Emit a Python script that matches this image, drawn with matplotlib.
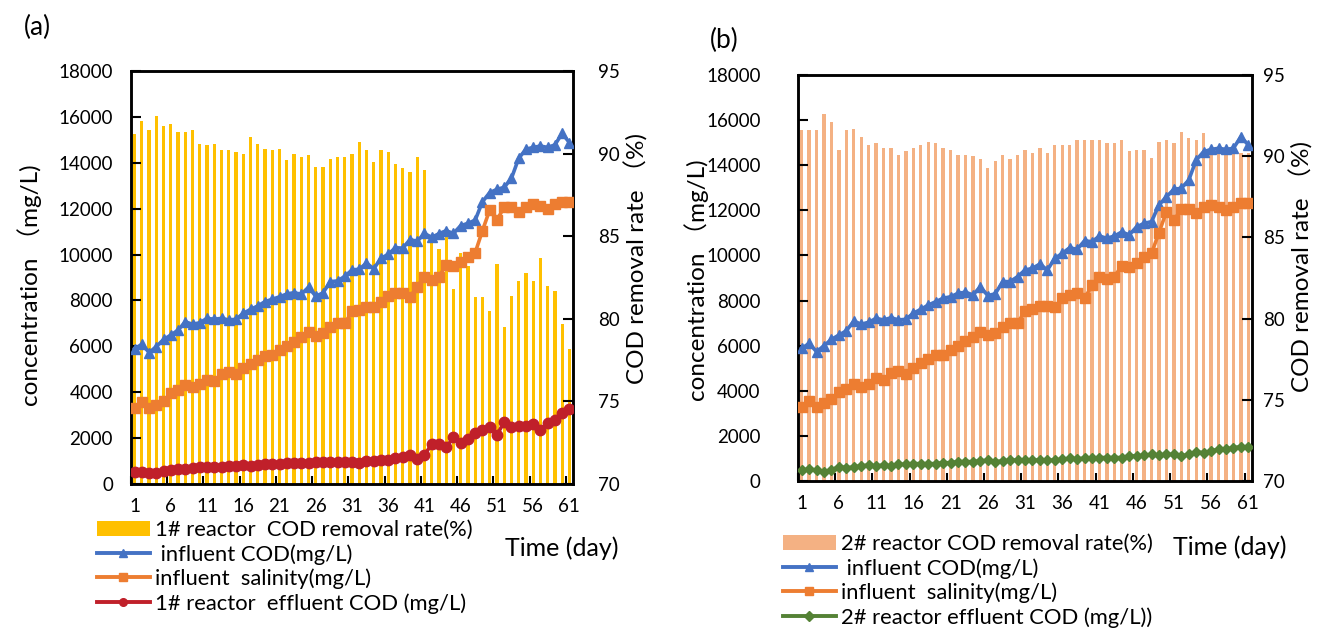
import matplotlib
matplotlib.use("Agg")
import matplotlib.pyplot as plt
from matplotlib.lines import Line2D
from matplotlib.patches import Patch
import numpy as np

plt.rcParams['font.family'] = ['Lato', 'Noto Sans CJK SC', 'DejaVu Sans']

days = list(range(1, 62))
tick_days = list(range(1, 62, 5))

# ---- panel (a) data ----
rate1 = [91.2, 92.0, 91.4, 92.3, 91.7, 91.8, 91.3, 91.3, 91.4, 90.6,
         90.5, 90.6, 90.2, 90.2, 90.1, 90.0, 91.0, 90.6, 90.3, 90.2,
         90.3, 89.6, 90.0, 89.8, 89.9, 89.2, 89.2, 89.7, 89.8, 89.8,
         90.0, 90.7, 90.2, 89.5, 90.2, 90.1, 89.4, 89.1, 88.9, 89.8,
         89.0, 84.6, 84.2, 85.0, 81.8, 84.0, 83.2, 81.3, 81.3, 80.5,
         83.3, 79.5, 81.4, 82.3, 82.8, 82.3, 83.7, 82.0, 81.7, 79.7,
         78.2]
cod_in_a = [5890, 6090, 5730, 5990, 6300, 6490, 6710, 7070, 6960, 7030,
            7220, 7180, 7220, 7150, 7180, 7440, 7610, 7760, 7950, 8050,
            8160, 8280, 8340, 8270, 8580, 8180, 8330, 8820, 8850, 9050,
            9330, 9360, 9630, 9380, 9840, 10010, 10300, 10280, 10650, 10580,
            10920, 10750, 10910, 11040, 10920, 11260, 11360, 11500, 12300, 12700,
            12840, 12930, 13320, 14190, 14590, 14670, 14730, 14670, 14780, 15280,
            14880]
sal_a = [3330, 3590, 3300, 3440, 3630, 3950, 4100, 4320, 4240, 4340,
         4530, 4490, 4780, 4900, 4780, 5040, 5230, 5400, 5580, 5620,
         5840, 6020, 6200, 6390, 6620, 6460, 6560, 6860, 7000, 7000,
         7520, 7580, 7730, 7700, 7950, 8200, 8330, 8310, 8150, 8600,
         9040, 8890, 9040, 9540, 9500, 9690, 9910, 10080, 11040, 11940,
         11510, 12060, 12090, 11870, 12090, 12200, 12130, 11990, 12200, 12300,
         12300]
eff_a = [540, 530, 500, 470, 570, 610, 650, 660, 690, 720,
         730, 760, 760, 790, 800, 830, 770, 830, 870, 880,
         880, 930, 900, 920, 930, 940, 950, 950, 960, 980,
         980, 920, 1000, 1020, 1030, 1060, 1120, 1170, 1260, 1100,
         1260, 1740, 1760, 1600, 2030, 1800, 1950, 2220, 2340, 2500,
         2150, 2690, 2500, 2510, 2510, 2630, 2350, 2660, 2790, 3100,
         3250]

# ---- panel (b) data ----
rate2 = [91.6, 91.6, 91.6, 92.6, 92.1, 90.4, 91.6, 91.7, 91.2, 90.7,
         90.8, 90.5, 90.5, 90.1, 90.3, 90.5, 90.7, 90.9, 90.8, 90.5,
         90.4, 90.1, 90.1, 90.0, 89.8, 89.3, 89.7, 90.1, 89.8, 90.1,
         90.4, 90.2, 90.5, 90.2, 90.7, 90.7, 90.7, 91.0, 91.0, 91.0,
         91.0, 90.8, 90.8, 91.0, 90.3, 90.4, 90.4, 89.9, 90.9, 91.0,
         90.8, 91.5, 91.1, 91.0, 91.4, 90.3, 90.2, 90.2, 90.2, 90.2,
         90.2]
cod_in_b = [5880, 6100, 5730, 6000, 6280, 6470, 6660, 7090, 6950, 7040,
            7210, 7140, 7240, 7140, 7170, 7440, 7610, 7800, 7950, 8100,
            8170, 8320, 8370, 8250, 8610, 8220, 8300, 8840, 8840, 9060,
            9350, 9430, 9620, 9350, 9870, 10090, 10340, 10270, 10650, 10610,
            10860, 10760, 10860, 11040, 10910, 11270, 11420, 11500, 12240, 12600,
            12930, 12980, 13340, 14230, 14600, 14700, 14750, 14700, 14750, 15260,
            14900]
sal_b = [3300, 3560, 3270, 3440, 3620, 3930, 4060, 4300, 4180, 4290,
         4550, 4480, 4800, 4890, 4730, 5000, 5220, 5390, 5590, 5590,
         5810, 5990, 6210, 6370, 6620, 6470, 6550, 6840, 6990, 6990,
         7550, 7610, 7760, 7760, 7700, 8100, 8250, 8320, 8100, 8670,
         9060, 8940, 9060, 9530, 9500, 9650, 9920, 10090, 11010, 11940,
         11570, 12040, 12040, 11900, 12130, 12240, 12130, 12020, 12130, 12310,
         12340]
eff_b = [490, 520, 490, 420, 490, 640, 590, 620, 670, 710,
         670, 710, 670, 740, 740, 770, 770, 770, 770, 810,
         810, 860, 860, 860, 890, 920, 860, 890, 920, 930,
         930, 920, 930, 930, 920, 960, 1010, 990, 1010, 1010,
         1040, 1040, 1040, 1040, 1110, 1110, 1140, 1180, 1140, 1180,
         1180, 1110, 1180, 1290, 1260, 1330, 1410, 1410, 1480, 1520,
         1520]

W, H = 1344, 635
fig = plt.figure(figsize=(W / 100, H / 100), dpi=100)

BLUE = '#4472C4'
ORANGE = '#ED7D31'
RED = '#C0202A'
GREEN = '#548235'

TFS = 13.5


def px(x0, y0, x1, y1):
    return [x0 / W, 1 - y1 / H, (x1 - x0) / W, (y1 - y0) / H]


def panel(rect, rate, barcolor, cod_in, sal, eff, effcolor, effmarker, effms,
          lpad, rpad):
    axb = fig.add_axes(rect)          # bars, right scale
    axl = axb.twinx()                 # lines, left scale
    axb.bar(days, rate, width=0.45, color=barcolor, bottom=0, zorder=1)
    axb.set_ylim(70, 95)
    axb.set_yticks([70, 75, 80, 85, 90, 95])
    axb.yaxis.tick_right()
    axb.yaxis.set_label_position('right')
    axb.set_xlim(0.5, 61.5)
    axb.set_xticks(tick_days)
    axb.set_xticks([0.5 + 5 * k for k in range(13)], minor=True)
    axb.tick_params(axis='x', which='major', length=0, pad=10, labelsize=TFS)
    axb.tick_params(axis='x', which='minor', length=6, width=1.5,
                    direction='in')
    axb.tick_params(axis='y', which='major', direction='in', length=7,
                    width=1.5, labelsize=TFS, pad=rpad, right=True, left=False,
                    labelright=True, labelleft=False)

    lw = 2.6
    axl.plot(days, cod_in, color=BLUE, lw=lw, marker='^', ms=7.5, zorder=3)
    axl.plot(days, sal, color=ORANGE, lw=lw, marker='s', ms=7, zorder=3)
    axl.plot(days, eff, color=effcolor, lw=lw, marker=effmarker, ms=effms,
             zorder=3)
    axl.set_ylim(0, 18000)
    axl.set_yticks(range(0, 18001, 2000))
    axl.yaxis.tick_left()
    axl.yaxis.set_label_position('left')
    axl.tick_params(axis='y', which='major', direction='in', length=7,
                    width=1.5, labelsize=TFS, pad=lpad, left=True, right=False,
                    labelleft=True, labelright=False)
    axl.set_xlim(0.5, 61.5)
    for a in (axb, axl):
        for s in a.spines.values():
            s.set_linewidth(1.8)
            s.set_color('black')
    return axb, axl


# panel (a)
axb_a, axl_a = panel(px(131, 71, 573, 484), rate1, '#FFC000', cod_in_a, sal_a,
                     eff_a, RED, 'o', 7.5, 13, 18)
# panel (b)
axb_b, axl_b = panel(px(798, 75, 1252, 481), rate2, '#F4B183', cod_in_b, sal_b,
                     eff_b, GREEN, 'D', 5, 27, 8)

AFS = 17.5
fig.text(37 / W, 1 - 27 / H, '(a)', fontsize=19, ha='center', va='center')
fig.text(724 / W, 1 - 40 / H, '(b)', fontsize=19, ha='center', va='center')

fig.text(30 / W, 1 - 285 / H, 'concentration （mg/L)', rotation=90,
         fontsize=AFS, ha='center', va='center')
fig.text(636 / W, 1 - 258 / H, 'COD removal rate （%)', rotation=90,
         fontsize=AFS, ha='center', va='center')
fig.text(697 / W, 1 - 280 / H, 'concentration （mg/L)', rotation=90,
         fontsize=AFS, ha='center', va='center')
fig.text(1301 / W, 1 - 266 / H, 'COD removal rate （%)', rotation=90,
         fontsize=AFS, ha='center', va='center')

fig.text(562 / W, 1 - 548 / H, 'Time (day)', fontsize=18, ha='center',
         va='center')
fig.text(1230 / W, 1 - 547 / H, 'Time (day)', fontsize=18, ha='center',
         va='center')

LFS = 15.8


def make_legend(x, y, barcolor, labels, effcolor, effmarker):
    handles = [
        Patch(facecolor=barcolor, edgecolor='none'),
        Line2D([], [], color=BLUE, lw=2.8, marker='^', ms=6),
        Line2D([], [], color=ORANGE, lw=2.8, marker='s', ms=6),
        Line2D([], [], color=effcolor, lw=2.8, marker=effmarker, ms=5.5),
    ]
    fig.legend(handles, labels, loc='upper left',
               bbox_to_anchor=(x / W, 1 - y / H), frameon=False,
               fontsize=LFS, handlelength=2.4, handletextpad=0.24,
               labelspacing=0.18, borderpad=0, borderaxespad=0)


make_legend(97, 520, '#FFC000',
            ['1# reactor  COD removal rate(%)', ' influent COD(mg/L)',
             'influent  salinity(mg/L)', '1# reactor  effluent COD (mg/L)'],
            RED, 'o')
make_legend(783, 534, '#F4B183',
            ['2# reactor COD removal rate(%)', ' influent COD(mg/L)',
             'influent  salinity(mg/L)', '2# reactor effluent COD (mg/L))'],
            GREEN, 'D')

fig.savefig('out.png', dpi=100)
